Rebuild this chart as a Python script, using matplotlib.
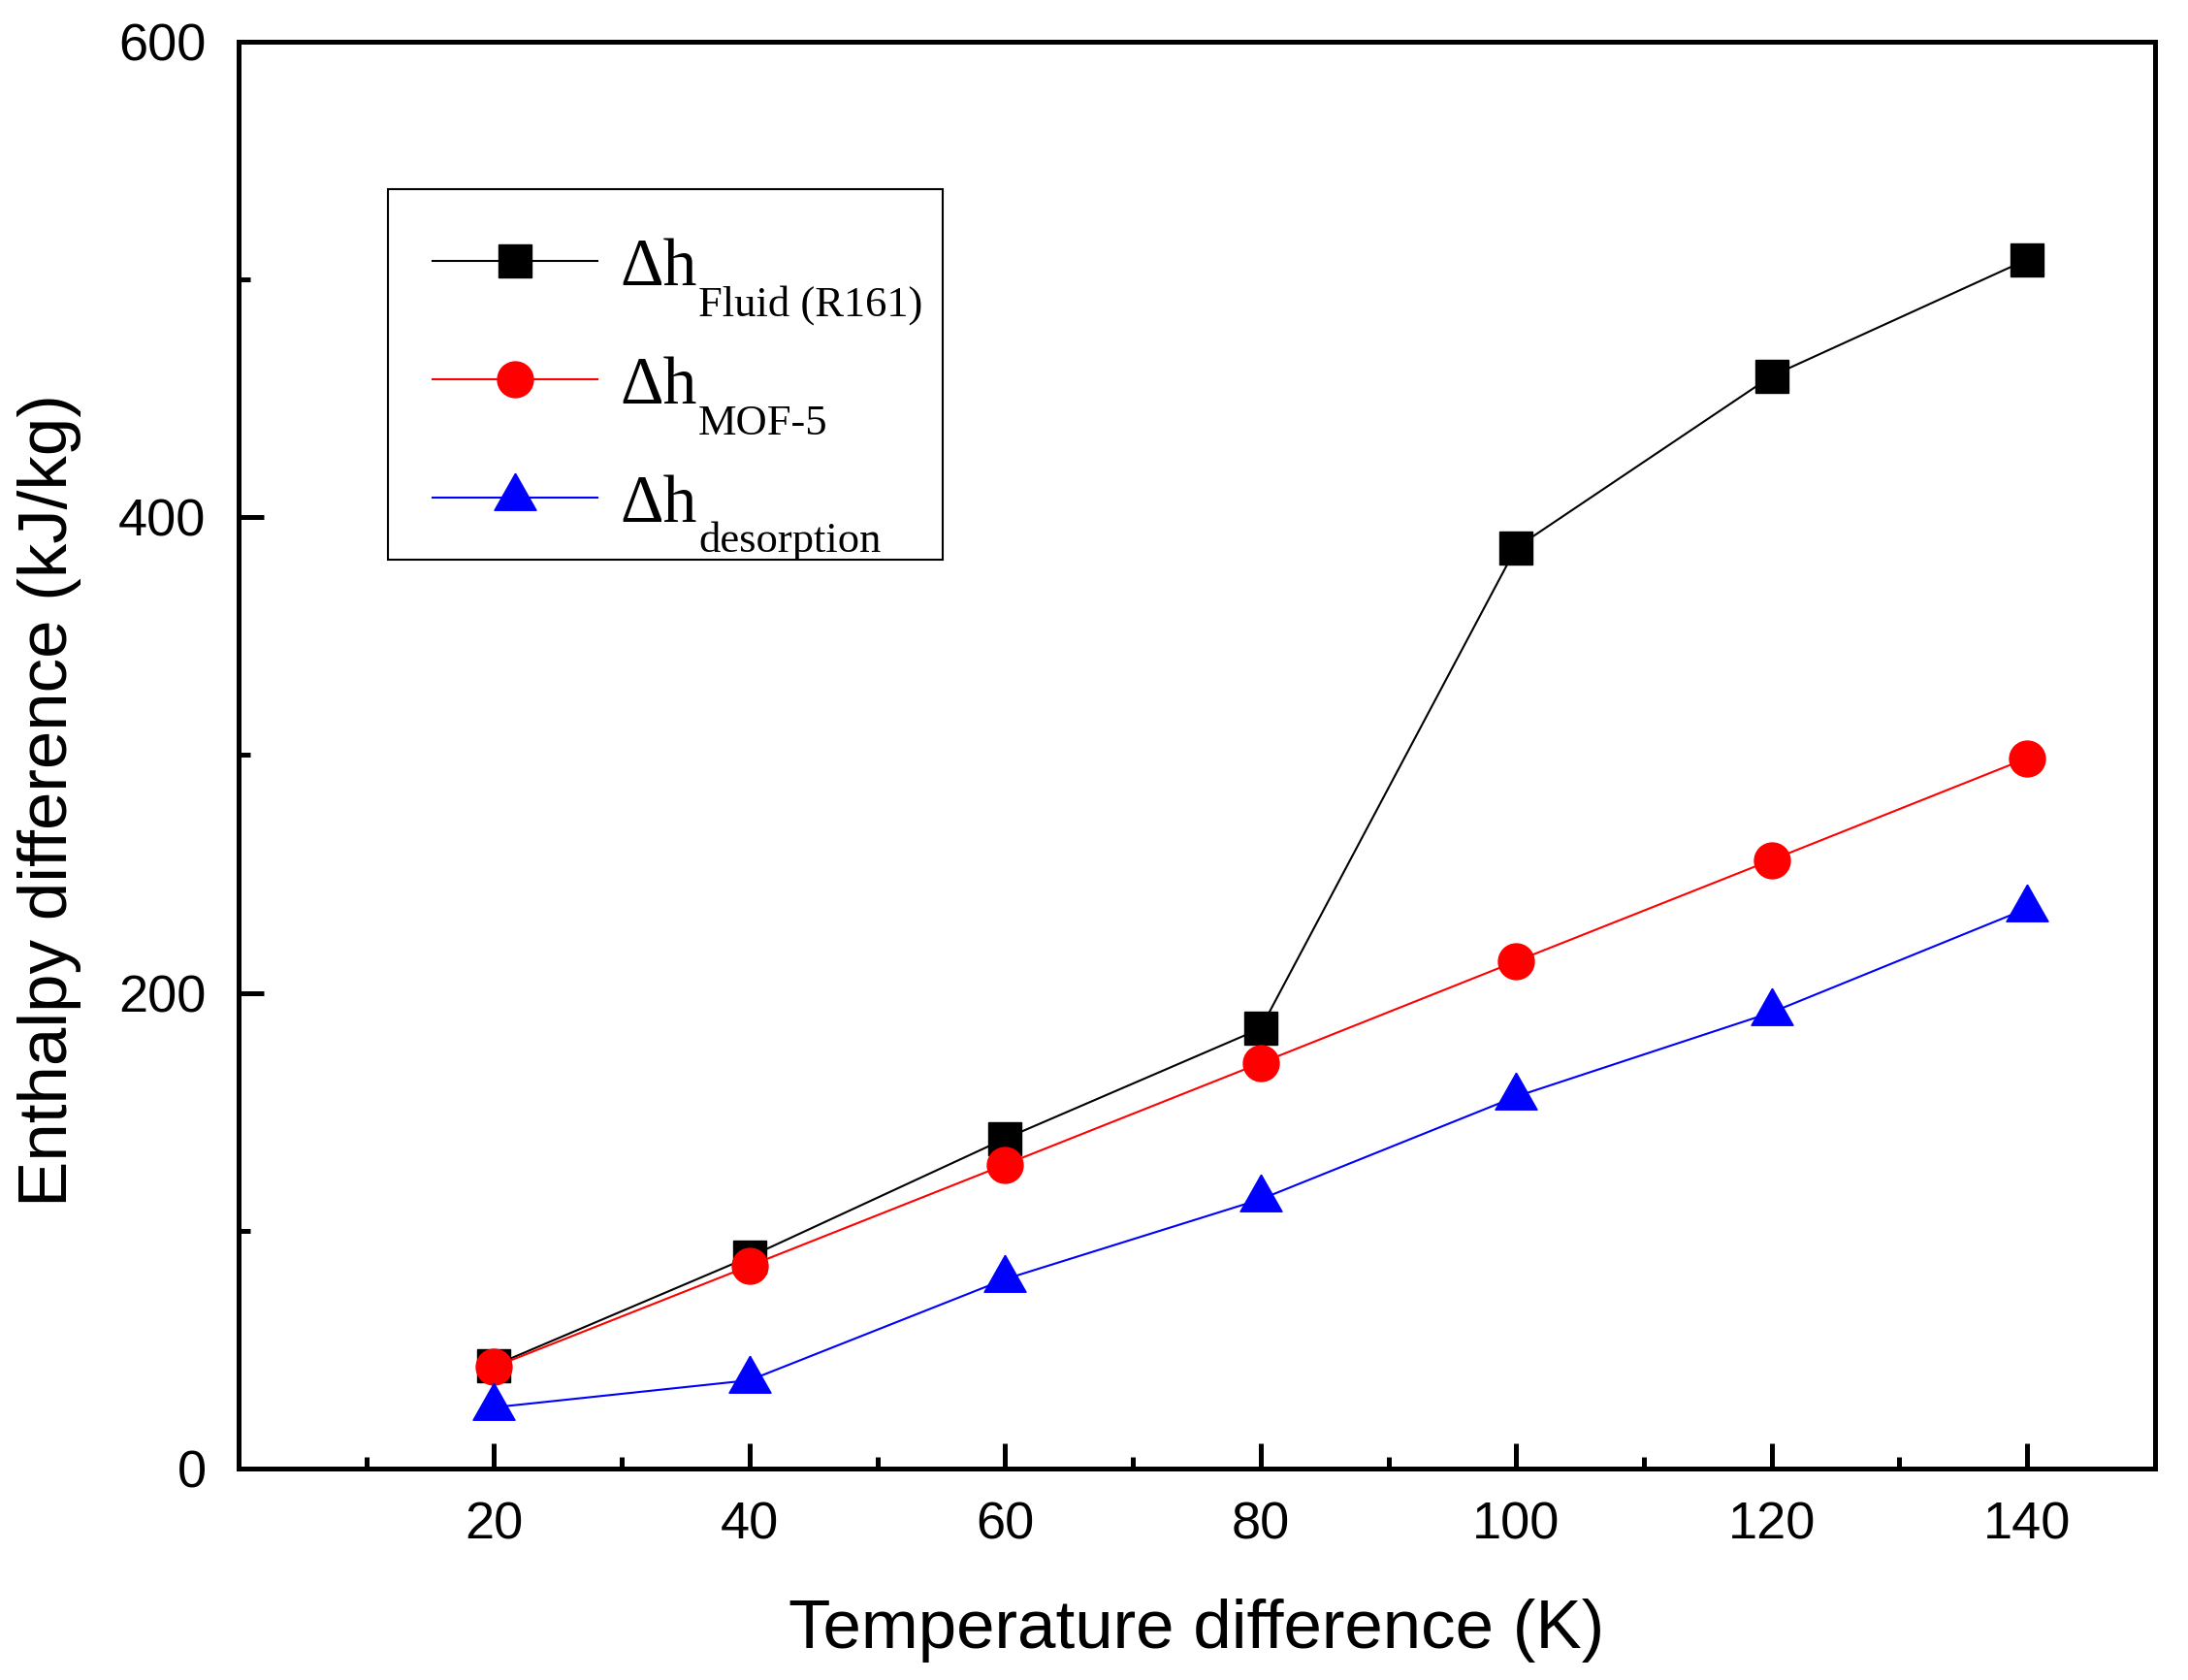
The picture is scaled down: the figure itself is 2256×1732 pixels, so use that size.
import numpy as np
import matplotlib
matplotlib.use('Agg')
import matplotlib.pyplot as plt
from matplotlib.patches import Rectangle
from matplotlib.transforms import IdentityTransform

plt.rcParams['font.family'] = ['Liberation Sans', 'DejaVu Sans']

# data
temp_diff = [20, 40, 60, 80, 100, 120, 140]
dh_fluid = [43.3, 89.0, 138.7, 185.0, 387.2, 459.4, 508.4]
dh_mof5 = [42.7, 85.2, 127.8, 170.5, 213.3, 255.9, 298.7]
dh_desorp = [25.7, 37.1, 79.6, 113.2, 156.4, 191.8, 235.5]

leg_main = 'Δh'
leg_subs = ['Fluid (R161)', 'MOF-5', 'desorption']

# origin style triangle, centred on its centroid
tri = [(0, 25.3), (-21.5, -12.7), (21.5, -12.7), (0, 25.3)]

W, H = 2256, 1732
fig = plt.figure(figsize=(W / 100, H / 100), dpi=100)
ax = fig.add_axes([0.1090, 0.1259, 0.8759, 0.8493])

l1, = ax.plot(temp_diff, dh_fluid, color='black', lw=1.5, marker='s', ms=23.8)
l2, = ax.plot(temp_diff, dh_mof5, color='red', lw=1.5, marker='o', ms=26.6)
l3, = ax.plot(temp_diff, dh_desorp, color='blue', lw=1.5, marker=tri, ms=36.5)

ax.set_xlim(0, 150)
ax.set_ylim(0, 600)
ax.set_xticks([20, 40, 60, 80, 100, 120, 140])
ax.set_xticks([10, 30, 50, 70, 90, 110, 130], minor=True)
ax.set_yticks([0, 200, 400, 600])
ax.set_yticks([100, 300, 500], minor=True)
ax.tick_params(which='both', direction='in', width=3.6, top=False, right=False)
ax.tick_params(which='major', length=18.5, labelsize=39, pad=24)
ax.tick_params(which='minor', length=8.5)
for s in ax.spines.values():
    s.set_linewidth(3.6)

ax.set_xlabel('Temperature difference (K)', fontsize=51)
ax.set_ylabel('Enthalpy difference (kJ/kg)', fontsize=51)
ax.xaxis.set_label_coords(0.5, -0.091)
ax.yaxis.set_label_coords(-0.082, 0.468)

fs = 50
leg = ax.legend([l1, l2, l3], [leg_main] * 3, loc='upper left',
                bbox_to_anchor=(446 / W, 1 - 245 / H), bbox_transform=fig.transFigure,
                frameon=False, borderpad=0, borderaxespad=0,
                prop={'family': 'Liberation Serif', 'size': fs},
                handlelength=2.45, handletextpad=0.34, labelspacing=0.84)

# legend frame
fig.add_artist(Rectangle((400 / W, 1 - 577 / H), (972 - 400) / W, (577 - 195) / H,
                         transform=fig.transFigure, fill=False, ec='black', lw=1.5))

# subscripts, set well below the baseline as in the original
fig.canvas.draw()
renderer = fig.canvas.get_renderer()
for t, sub in zip(leg.get_texts(), leg_subs):
    bb = t.get_window_extent(renderer)
    _, _, d = renderer.get_text_width_height_descent('lp', t.get_fontproperties(), ismath=False)
    base = bb.y0 + d
    fig.text(bb.x1 + 1, base - 32, sub, transform=IdentityTransform(),
             family='Liberation Serif', fontsize=32, ha='left', va='baseline')

fig.savefig('out.png', dpi=100)
